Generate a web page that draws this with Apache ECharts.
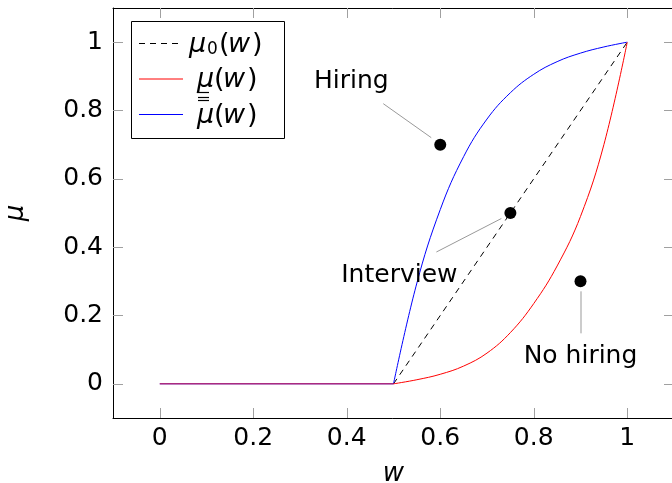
<!DOCTYPE html>
<html>
<head>
<meta charset="utf-8">
<script src="https://cdn.jsdelivr.net/npm/echarts@6/dist/echarts.min.js"></script>
<style>
  html, body { margin: 0; padding: 0; background: #fff; }
  #chart { width: 672px; height: 483px; }
</style>
</head>
<body>
<div id="chart"></div>
<script>
// Tick positions on both axes
const xTicks = [0, 0.2, 0.4, 0.6, 0.8, 1];
const yTicks = [0, 0.2, 0.4, 0.6, 0.8, 1];

// Flat part shared by both bounds (w below 0.5)
const flatW = [0, 0.5];
const flatMu = [0, 0];

// Bounds above w = 0.5
const curveW   = [0.5, 0.55, 0.6, 0.65, 0.7, 0.75, 0.8, 0.85, 0.9, 0.95, 1];
const muUpper  = [0, 0.295, 0.51, 0.665, 0.775, 0.852, 0.906, 0.943, 0.968, 0.986, 1];
const muLower  = [0, 0.012, 0.028, 0.052, 0.09, 0.15, 0.235, 0.345, 0.49, 0.70, 1];

// Prior belief line
const mu0W = [0.5, 1];
const mu0  = [0, 1];

// Region markers
const annoNames = ['Hiring', 'Interview', 'No hiring'];
const annoW     = [0.6, 0.75, 0.9];
const annoMu    = [0.7, 0.5, 0.3];

const FONT = 'DejaVu Sans';
const TICK_COLOR = '#a0a0a0';

// Label offsets and pin segments (pixels, relative to each marker)
const pinLayout = [
  { label: [-89, -63],   from: [-9, -7],   to: [-57, -41] },
  { label: [-111, 62.5], from: [-9, 5.5],  to: [-74, 39] },
  { label: [0, 75],      from: [0.5, 10],  to: [0.5, 52] }
];

const pairs = (xs, ys) => xs.map((x, i) => [x, ys[i]]);

const chart = echarts.init(document.getElementById('chart'), null, { renderer: 'canvas' });

const axisCommon = {
  type: 'value',
  min: -0.1,
  max: 1.1,
  splitLine: { show: false },
  axisLine: { show: true, onZero: false, lineStyle: { color: '#000', width: 1 } },
  axisTick: { show: true, inside: true, length: 10, lineStyle: { color: TICK_COLOR, width: 1 } }
};

const labelStyle = { color: '#000', fontSize: 25, fontFamily: FONT };

chart.setOption({
  animation: false,
  grid: { left: 113, right: -2, top: 8, bottom: 65, outerBoundsMode: 'none' },
  xAxis: [
    Object.assign({}, axisCommon, {
      position: 'bottom',
      axisTick: Object.assign({}, axisCommon.axisTick, { customValues: xTicks }),
      axisLabel: Object.assign({}, labelStyle, { customValues: xTicks, margin: 8 }),
      name: 'w',
      nameLocation: 'middle',
      nameGap: 43,
      nameTextStyle: { color: '#000', fontSize: 26, fontFamily: FONT, fontStyle: 'italic' }
    }),
    Object.assign({}, axisCommon, {
      position: 'top',
      axisTick: Object.assign({}, axisCommon.axisTick, { customValues: xTicks }),
      axisLabel: { show: false }
    })
  ],
  yAxis: [
    Object.assign({}, axisCommon, {
      position: 'left',
      axisTick: Object.assign({}, axisCommon.axisTick, { customValues: yTicks }),
      axisLabel: Object.assign({}, labelStyle, { customValues: yTicks, margin: 10 }),
      name: 'μ',
      nameLocation: 'middle',
      nameRotate: 90,
      nameGap: 84,
      nameTextStyle: { color: '#000', fontSize: 26, fontFamily: FONT, fontStyle: 'italic' }
    }),
    Object.assign({}, axisCommon, {
      position: 'right',
      axisTick: Object.assign({}, axisCommon.axisTick, { customValues: yTicks }),
      axisLabel: { show: false }
    })
  ],
  series: [
    {
      name: 'mu0', type: 'line', data: pairs(mu0W, mu0), symbol: 'none',
      lineStyle: { color: '#000', width: 1, type: [6, 5] }, silent: true, z: 2
    },
    {
      name: 'muUpperFlat', type: 'line', data: pairs(flatW, flatMu), symbol: 'none',
      lineStyle: { color: '#0000ff', width: 1 }, silent: true, z: 3
    },
    {
      name: 'muUpper', type: 'line', data: pairs(curveW, muUpper), symbol: 'none',
      smooth: 0.4,
      lineStyle: { color: '#0000ff', width: 1 }, silent: true, z: 3
    },
    {
      name: 'muLowerFlat', type: 'line', data: pairs(flatW, flatMu), symbol: 'none',
      lineStyle: { color: '#ff0000', width: 1, opacity: 0.75 }, silent: true, z: 4
    },
    {
      name: 'muLower', type: 'line', data: pairs(curveW, muLower), symbol: 'none',
      smooth: 0.4,
      lineStyle: { color: '#ff0000', width: 1 }, silent: true, z: 4
    },
    {
      name: 'regions', type: 'scatter', symbol: 'circle', symbolSize: 12,
      itemStyle: { color: '#000', opacity: 1 }, silent: true, z: 6,
      data: annoNames.map((n, i) => ({
        name: n,
        value: [annoW[i], annoMu[i]],
        label: {
          show: true, position: 'inside', offset: pinLayout[i].label,
          formatter: '{b}', color: '#000', opacity: 1, fontSize: 25, fontFamily: FONT
        }
      }))
    }
  ]
});

// Pins from each marker towards its label
const pins = annoNames.map((n, i) => {
  const p = chart.convertToPixel({ gridIndex: 0 }, [annoW[i], annoMu[i]]);
  const L = pinLayout[i];
  return {
    type: 'line', silent: true, z: 5,
    shape: { x1: p[0] + L.from[0], y1: p[1] + L.from[1], x2: p[0] + L.to[0], y2: p[1] + L.to[1] },
    style: { stroke: '#999', lineWidth: 1 }
  };
});

// Legend box with math-style entries
const glyph = (t, x, y, opts) => ({
  type: 'text', x: x, y: y,
  style: Object.assign({
    text: t, fontFamily: FONT, fontSize: 27, fill: '#000',
    verticalAlign: 'middle', align: 'left'
  }, opts || {})
});
const italic = { fontStyle: 'italic' };
const rule = (x1, x2, y, color, dash, width) => ({
  type: 'line',
  shape: { x1: x1, y1: y, x2: x2, y2: y },
  style: { stroke: color, lineWidth: width || 1, lineDash: dash || null }
});

const legend = {
  type: 'group', x: 0, y: 0, z: 20, silent: true,
  children: [
    { type: 'rect', shape: { x: 131.5, y: 21.5, width: 153, height: 117 },
      style: { fill: '#fff', stroke: '#000', lineWidth: 1 } },
    rule(139, 183, 43.5, '#000', [6, 5]),
    rule(139, 183, 79, '#ff0000'),
    rule(139, 183, 114.5, '#0000ff'),
    // mu_0(w)
    glyph('μ', 189, 45, italic),
    glyph('0', 207, 50, { fontSize: 17 }),
    glyph('(', 219, 45),
    glyph('w', 228, 45, italic),
    glyph(')', 252, 45),
    // underlined mu(w)
    glyph('μ', 197, 80, italic),
    rule(197, 209, 92.5, '#000', null, 1.2),
    glyph('(', 214, 80),
    glyph('w', 223, 80, italic),
    glyph(')', 247, 80),
    // double-overlined mu(w)
    glyph('μ', 197, 116, italic),
    rule(198, 209, 97.5, '#000', null, 1.2),
    rule(198, 209, 100.5, '#000', null, 1.2),
    glyph('(', 214, 116),
    glyph('w', 223, 116, italic),
    glyph(')', 247, 116)
  ]
};

chart.setOption({ graphic: pins.concat([legend]) });
</script>
</body>
</html>
